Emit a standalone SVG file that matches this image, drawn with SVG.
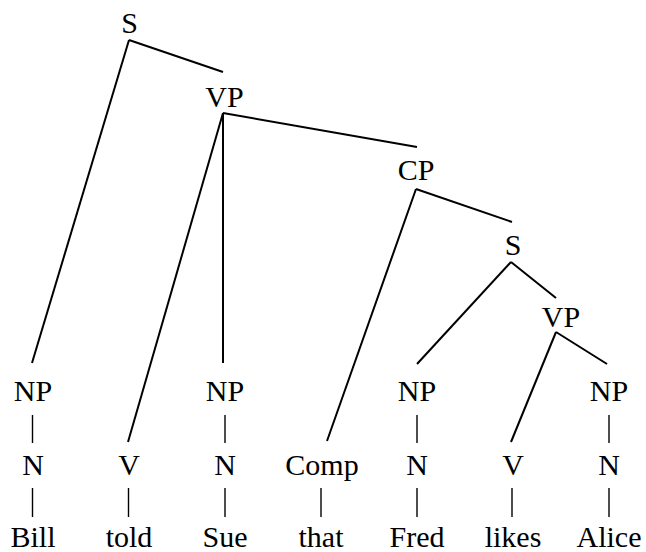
<svg xmlns="http://www.w3.org/2000/svg" width="646" height="552" viewBox="0 0 646 552">
<style>
text{font-family:"Liberation Serif","Times New Roman",serif;font-size:30px;fill:#000;text-anchor:middle}
.e{stroke:#000;stroke-width:2;fill:none;stroke-linecap:butt}
.b{stroke:#000;stroke-width:1.4;fill:none}
</style>
<rect width="646" height="552" fill="#fff"/>
<g id="connectors">
<line class="e" x1="129" y1="40" x2="223" y2="72"/>
<line class="e" x1="129" y1="40" x2="32" y2="363"/>
<line class="e" x1="223" y1="113" x2="128" y2="442"/>
<line class="e" x1="223" y1="113" x2="223" y2="363"/>
<line class="e" x1="223" y1="113" x2="417" y2="147"/>
<line class="e" x1="416" y1="189" x2="327" y2="441"/>
<line class="e" x1="416" y1="189" x2="512" y2="222"/>
<line class="e" x1="511" y1="262" x2="417" y2="364"/>
<line class="e" x1="511" y1="262" x2="556" y2="298"/>
<line class="e" x1="556" y1="332" x2="511" y2="442"/>
<line class="e" x1="556" y1="332" x2="607" y2="364"/>
<line class="b" x1="32.5" y1="415" x2="32.5" y2="443"/>
<line class="b" x1="225" y1="415" x2="225" y2="443"/>
<line class="b" x1="417" y1="415" x2="417" y2="443"/>
<line class="b" x1="609" y1="415" x2="609" y2="443"/>
<line class="b" x1="32.5" y1="488" x2="32.5" y2="517"/>
<line class="b" x1="128.5" y1="488" x2="128.5" y2="517"/>
<line class="b" x1="225" y1="488" x2="225" y2="517"/>
<line class="b" x1="321" y1="488" x2="321" y2="517"/>
<line class="b" x1="417" y1="488" x2="417" y2="517"/>
<line class="b" x1="512" y1="488" x2="512" y2="517"/>
<line class="b" x1="609" y1="488" x2="609" y2="517"/>
</g>
<g id="S1"><text x="129.5" y="33">S</text></g>
<g id="VP1"><text x="224.5" y="107">VP</text></g>
<g id="CP"><text x="416" y="180">CP</text></g>
<g id="S2"><text x="513" y="255">S</text></g>
<g id="VP2"><text x="561" y="327">VP</text></g>
<g id="NP1"><text x="33" y="401">NP</text></g>
<g id="NP2"><text x="225" y="401">NP</text></g>
<g id="NP3"><text x="417" y="401">NP</text></g>
<g id="NP4"><text x="609" y="401">NP</text></g>
<g id="N1"><text x="33" y="475">N</text></g>
<g id="V1"><text x="129" y="475">V</text></g>
<g id="N2"><text x="225" y="475">N</text></g>
<g id="Comp"><text x="322" y="475">Comp</text></g>
<g id="N3"><text x="417" y="475">N</text></g>
<g id="V2"><text x="513" y="475">V</text></g>
<g id="N4"><text x="609" y="475">N</text></g>
<g id="w-Bill"><text x="33" y="547">Bill</text></g>
<g id="w-told"><text x="129" y="547">told</text></g>
<g id="w-Sue"><text x="225" y="547">Sue</text></g>
<g id="w-that"><text x="321" y="547">that</text></g>
<g id="w-Fred"><text x="417" y="547">Fred</text></g>
<g id="w-likes"><text x="513" y="547">likes</text></g>
<g id="w-Alice"><text x="609" y="547">Alice</text></g>
</svg>
